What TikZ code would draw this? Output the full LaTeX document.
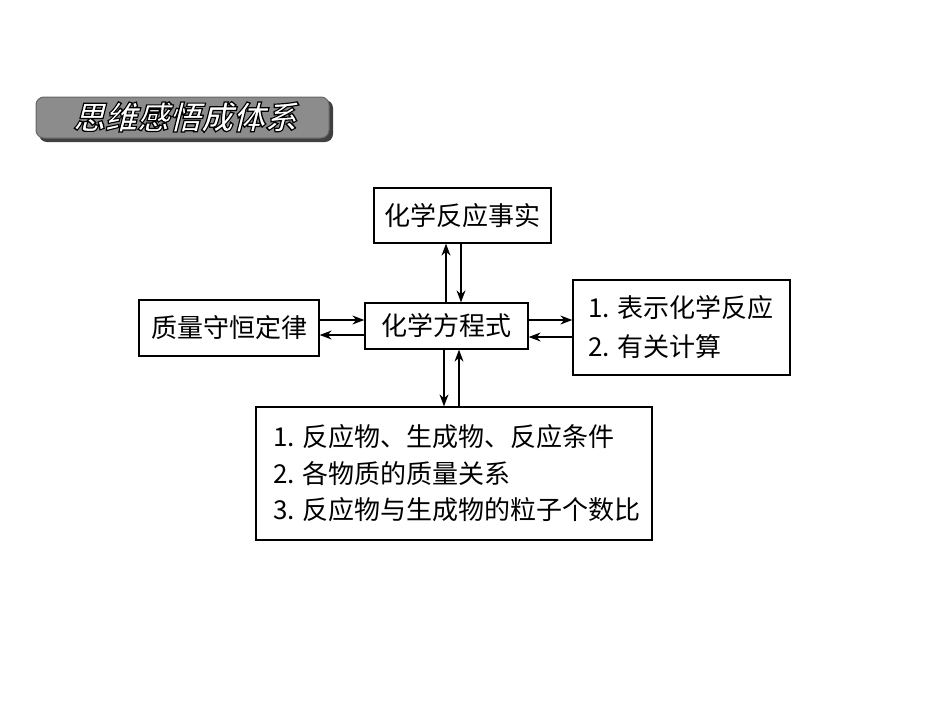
\documentclass[tikz,border=0pt]{standalone}
\usepackage{fontspec}
\setmainfont{Liberation Serif}
\newfontfamily\cjk{Noto Sans CJK SC}
\newfontfamily\cjkb{Noto Sans CJK SC Bold}
\usetikzlibrary{arrows.meta}
\begin{document}
\begin{tikzpicture}[x=1pt,y=-1pt,
  box/.style={draw,line width=1.3pt,inner sep=0pt},
  lab/.style={font=\fontsize{26}{36}\selectfont\cjk,anchor=west,inner sep=0pt},
  arr/.style={line width=1.2pt,-{Stealth[length=12pt,width=9pt]}}]
\useasboundingbox (0,0) rectangle (950,713);
% title banner
\fill[black!75,rounded corners=8pt] (39,100) rectangle (333,142);
\draw[fill=black!45,draw=black!60,rounded corners=8pt,line width=1pt] (36,97) rectangle (329,138);
\node[font=\fontsize{32}{32}\selectfont\cjkb,text=white,xslant=0.25] (t) at (188,117) {\special{pdf:literal 2 Tr 0 G 1.2 w}思维感悟成体系\special{pdf:literal 0 Tr}};
% boxes
\node[box,minimum width=177pt,minimum height=55pt] (top) at (462.5,215.5) {};
\node[lab,anchor=center] at (top) {化学反应事实};
\node[box,minimum width=180pt,minimum height=56pt] (left) at (229,328) {};
\node[lab,anchor=center] at (left) {质量守恒定律};
\node[box,minimum width=163pt,minimum height=46pt] (mid) at (446.5,326) {};
\node[lab,anchor=center] at (mid) {化学方程式};
\node[box,minimum width=217pt,minimum height=95pt] (right) at (681.5,327.5) {};
\node[lab] at (588,308) {1. 表示化学反应};
\node[lab] at (588,347) {2. 有关计算};
\node[box,minimum width=396pt,minimum height=133pt] (bot) at (454,473.5) {};
\node[lab] at (273,437) {1. 反应物、生成物、反应条件};
\node[lab] at (273,474) {2. 各物质的质量关系};
\node[lab] at (273,510) {3. 反应物与生成物的粒子个数比};
% arrows
\draw[arr] (mid.north -| 446,0) -- (top.south -| 446,0);
\draw[arr] (top.south -| 461,0) -- (mid.north -| 461,0);
\draw[arr] (mid.south -| 444,0) -- (bot.north -| 444,0);
\draw[arr] (bot.north -| 459,0) -- (mid.south -| 459,0);
\draw[arr] (left.east |- 0,320) -- (mid.west |- 0,320);
\draw[arr] (mid.west |- 0,335) -- (left.east |- 0,335);
\draw[arr] (mid.east |- 0,320) -- (right.west |- 0,320);
\draw[arr] (right.west |- 0,337) -- (mid.east |- 0,337);
\end{tikzpicture}
\end{document}
